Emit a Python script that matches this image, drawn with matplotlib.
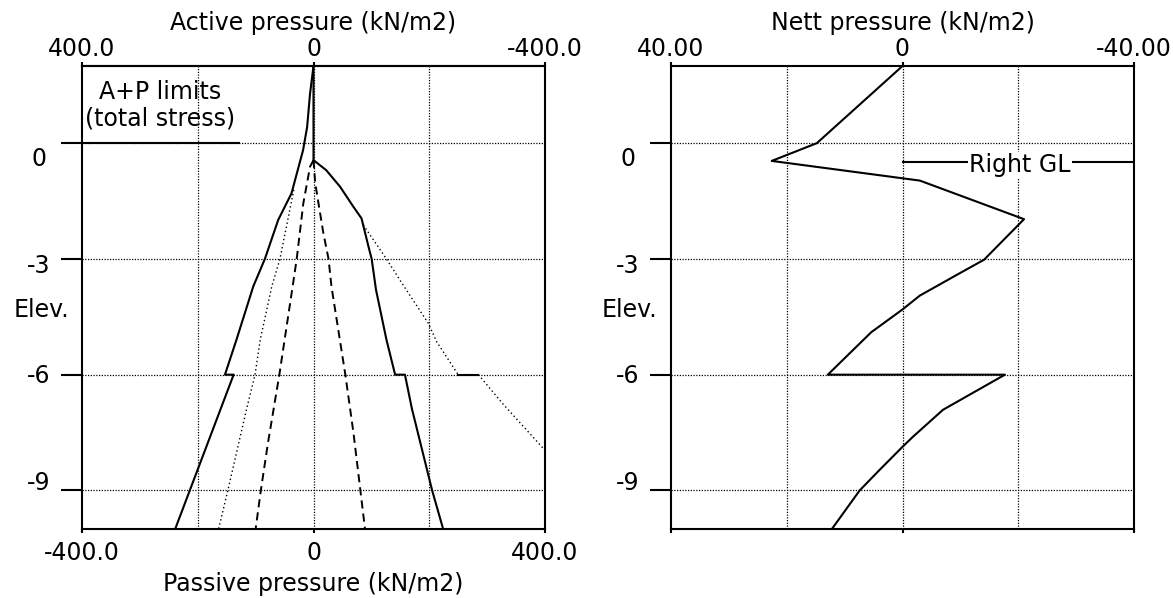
import numpy as np
import matplotlib.pyplot as plt
from matplotlib.transforms import ScaledTranslation

plt.rcParams['font.family'] = ['DejaVu Sans']
plt.rcParams['font.size'] = 17

# ---- left chart: A+P limits, passive pressure axis (kN/m2) vs elevation (m)
lim_left_p = [0, -6, -11, -18, -38, -61, -84, -104, -133, -153, -138, -239]
lim_left_e = [2, 1.28, 0.42, -0.18, -1.3, -1.99, -3, -3.71, -5.09, -6, -6, -10]

lim_right_p = [0, 0, 22, 46, 69, 83, 95, 100.5, 108, 126, 141, 158, 170, 205, 224]
lim_right_e = [2, -0.44, -0.7, -1.13, -1.65, -1.95, -2.68, -3, -3.8, -5.09, -6, -6, -6.88, -9, -10]

dot_left_p = [-34, -58, -72, -92, -101, -115, -148, -164]
dot_left_e = [-1.21, -3, -3.71, -5.09, -6, -6.85, -9, -10]

dot_right_p1 = [86, 126, 158, 198, 213, 250]
dot_right_e1 = [-2.12, -3, -3.75, -4.66, -5.15, -6]
step_p = [250, 285]
step_e = [-6, -6]
dot_right_p2 = [285, 328, 400]
dot_right_e2 = [-6, -6.77, -7.96]

dash_left_p = [0, -6, -17.6, -29, -36, -59, -79, -91, -100]
dash_left_e = [-0.44, -0.61, -1.56, -3, -3.71, -6, -7.8, -9, -10]
dash_right_p = [0, 3, 17, 26, 31, 55, 69, 81, 89]
dash_right_e = [-0.44, -1.04, -2.33, -3, -3.71, -6, -7.5, -9, -10]

left_gl_p = [-400, -129]
left_gl_e = [0, 0]

# ---- right chart: nett pressure (kN/m2)
nett_p = [0, 14.8, 22.6, -3.0, -21, -14.1, -9.9, -3.0, 0, 5.4, 12.9, -17.7, -7.0, -1.8, 0, 4.1, 7.4, 12.2]
nett_e = [2, 0, -0.46, -0.97, -1.97, -3.02, -3.37, -3.95, -4.31, -4.9, -6, -6, -6.91, -7.61, -7.87, -8.49, -9, -10]
right_gl_p = [0, -40]
right_gl_e = [-0.48, -0.48]

elev_ticks = [0, -3, -6, -9]
elev_labels = ['0', '-3', '-6', '-9']
label_shift_px = [13, 5, -1, -10]

W, H = 1173, 598
fig = plt.figure(figsize=(W / 100, H / 100), dpi=100)
ax1 = fig.add_axes([82 / W, 1 - 529 / H, 463 / W, 463 / H])
ax2 = fig.add_axes([671 / W, 1 - 529 / H, 463 / W, 463 / H])

grid_kw = dict(color='black', lw=0.9, ls=(0, (1, 1.2)), zorder=1)
solid = dict(color='black', lw=1.5, zorder=3)
dotted = dict(color='black', lw=1.0, ls=(0, (1, 2)), zorder=3)
dashed = dict(color='black', lw=1.4, ls=(0, (4.2, 2.6)), zorder=3)


def frame(ax, xlim, grid_x, xticks):
    ax.set_xlim(xlim)
    ax.set_ylim(-10, 2)
    for g in grid_x:
        ax.axvline(g, **grid_kw)
    for g in elev_ticks:
        ax.axhline(g, **grid_kw)
    for s in ax.spines.values():
        s.set_linewidth(1.5)
    ax.set_yticks(elev_ticks)
    ax.set_yticklabels(elev_labels)
    ax.tick_params(axis='y', length=15, width=1.5, pad=16.3)
    ax.set_xticks(xticks)
    ax.tick_params(axis='x', length=3, width=1.5, pad=6)
    ax.set_ylabel('Elev.', rotation=0, ha='center', va='center')


# left chart
ax = ax1
frame(ax, (-400, 400), [-200, 0, 200], [-400, 0, 400])
ax.set_xticklabels(['-400.0', '0', '400.0'])
ax.set_xlabel('Passive pressure (kN/m2)', labelpad=4.5)
ax.yaxis.set_label_coords(-0.0886, 0.473)
ax.plot(lim_left_p, lim_left_e, **solid)
ax.plot(lim_right_p, lim_right_e, **solid)
ax.plot(dot_left_p, dot_left_e, **dotted)
ax.plot(dot_right_p1, dot_right_e1, **dotted)
ax.plot(step_p, step_e, **solid)
ax.plot(dot_right_p2, dot_right_e2, **dotted)
ax.plot(dash_left_p, dash_left_e, **dashed)
ax.plot(dash_right_p, dash_right_e, **dashed)
ax.plot(left_gl_p, left_gl_e, **solid)
ax.text(-265, 0.98, 'A+P limits\n(total stress)', ha='center', va='center',
        multialignment='center', linespacing=1.15)

sec = ax.secondary_xaxis('top', functions=(np.negative, np.negative))
sec.set_xticks([400, 0, -400])
sec.set_xticklabels(['400.0', '0', '-400.0'])
sec.tick_params(length=3, width=1.5, pad=0.5)
sec.spines['top'].set_linewidth(1.5)
sec.set_xlabel('Active pressure (kN/m2)', labelpad=5)

# right chart
ax = ax2
frame(ax, (40, -40), [20, 0, -20], [40, 0, -40])
ax.set_xticklabels(['40.00', '0', '-40.00'])
ax.tick_params(axis='x', top=True, labeltop=True, labelbottom=False)
ax.tick_params(axis='x', pad=0.5)
ax.xaxis.set_label_position('top')
ax.set_xlabel('Nett pressure (kN/m2)', labelpad=5)
ax.yaxis.set_label_coords(-0.0907, 0.473)
ax.plot(nett_p, nett_e, **solid)
ax.plot(right_gl_p, right_gl_e, **solid)
ax.text(-20.3, -0.57, 'Right GL', ha='center', va='center', zorder=4,
        bbox=dict(facecolor='white', edgecolor='none', pad=1))

# the original program places the elevation labels slightly off their ticks
for a in (ax1, ax2):
    for lbl, d in zip(a.get_yticklabels(), label_shift_px):
        lbl.set_ha('center')
        lbl.set_transform(lbl.get_transform() + ScaledTranslation(0, -d / 100, fig.dpi_scale_trans))

fig.savefig('out.png', dpi=100, facecolor='white')
